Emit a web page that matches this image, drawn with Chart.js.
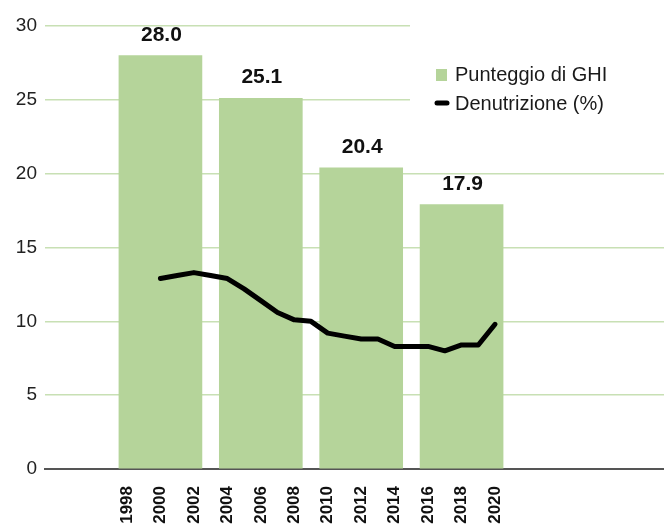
<!DOCTYPE html>
<html>
<head>
<meta charset="utf-8">
<script src="https://cdn.jsdelivr.net/npm/chart.js@4.4.1/dist/chart.umd.min.js"></script>
<style>
html,body{margin:0;padding:0;background:#fff;}
#wrap{width:664px;height:524px;position:relative;}
</style>
</head>
<body>
<div id="wrap"><canvas id="c" width="664" height="524"></canvas></div>
<script>
// ---- data ----
const tickYears = [1998, 2000, 2002, 2004, 2006, 2008, 2010, 2012, 2014, 2016, 2018, 2020];
const ghiYears = [2000, 2006, 2012, 2018];
const ghiScores = [28.0, 25.1, 20.4, 17.9];
const underYears = [2000, 2001, 2002, 2003, 2004, 2005, 2006, 2007, 2008, 2009, 2010,
                    2011, 2012, 2013, 2014, 2015, 2016, 2017, 2018, 2019, 2020];
const underValues = [12.9, 13.1, 13.3, 13.1, 12.9, 12.2, 11.4, 10.6, 10.1, 10.0, 9.2,
                     9.0, 8.8, 8.8, 8.3, 8.3, 8.3, 8.0, 8.4, 8.4, 9.8];
const seriesNames = ['Punteggio di GHI', 'Denutrizione (%)'];
const yTicks = [0, 5, 10, 15, 20, 25, 30];

const BAR_COLOR = '#b5d49a';
const GRID_COLOR = '#c8e0b4';

const valueLabels = {
  id: 'valueLabels',
  afterDatasetsDraw(chart) {
    const ctx = chart.ctx;
    const meta = chart.getDatasetMeta(0);
    ctx.save();
    ctx.font = 'bold 21px "Liberation Sans", Arial, sans-serif';
    ctx.fillStyle = '#111';
    ctx.textAlign = 'center';
    ctx.textBaseline = 'alphabetic';
    meta.data.forEach((bar, i) => {
      ctx.fillText(ghiScores[i].toFixed(1), bar.x + 1, bar.y - 15);
    });
    ctx.restore();
  }
};

const customLegend = {
  id: 'customLegend',
  beforeDatasetsDraw(chart) {
    const ctx = chart.ctx;
    ctx.save();
    ctx.fillStyle = '#fff';
    ctx.fillRect(410, 10, 260, 122);
    ctx.restore();
  },
  afterDraw(chart) {
    const ctx = chart.ctx;
    ctx.save();
    ctx.fillStyle = BAR_COLOR;
    ctx.fillRect(436, 69, 11, 12);
    ctx.strokeStyle = '#000';
    ctx.lineWidth = 5;
    ctx.lineCap = 'round';
    ctx.beginPath();
    ctx.moveTo(437, 103);
    ctx.lineTo(447, 103);
    ctx.stroke();
    ctx.fillStyle = '#1a1a1a';
    ctx.font = '20px "Liberation Sans", Arial, sans-serif';
    ctx.textAlign = 'left';
    ctx.textBaseline = 'middle';
    ctx.fillText(seriesNames[0], 455, 75);
    ctx.fillText(seriesNames[1], 455, 104);
    ctx.restore();
  }
};

new Chart(document.getElementById('c'), {
  type: 'bar',
  data: {
    datasets: [
      {
        type: 'bar',
        label: seriesNames[0],
        data: ghiYears.map((y, i) => ({x: y, y: ghiScores[i]})),
        backgroundColor: BAR_COLOR,
        borderWidth: 0,
        barThickness: 83,
        order: 2
      },
      {
        type: 'line',
        label: seriesNames[1],
        data: underYears.map((y, i) => ({x: y, y: underValues[i]})),
        borderColor: '#000',
        borderWidth: 5,
        borderCapStyle: 'round',
        borderJoinStyle: 'round',
        pointRadius: 0,
        tension: 0,
        fill: false,
        order: 1
      }
    ]
  },
  options: {
    responsive: false,
    animation: false,
    layout: {padding: {top: 26, right: 0, left: 0, bottom: 0}},
    plugins: {legend: {display: false}, tooltip: {enabled: false}},
    scales: {
      x: {
        type: 'linear',
        offset: false,
        min: 1993.1,
        max: 2030.1,
        afterBuildTicks(scale) { scale.ticks = tickYears.map(v => ({value: v})); },
        afterFit(scale) { scale.height = 55; },
        grid: {display: false, drawTicks: false, offset: false},
        border: {display: true, color: '#555', width: 2},
        ticks: {
          autoSkip: false,
          minRotation: 90,
          maxRotation: 90,
          padding: 17,
          color: '#111',
          font: {family: '"Liberation Sans", Arial, sans-serif', size: 17, weight: 'bold'},
          callback: v => String(v)
        }
      },
      y: {
        min: 0,
        max: 30,
        afterBuildTicks(scale) { scale.ticks = yTicks.map(v => ({value: v})); },
        afterFit(scale) { scale.width = 45; },
        grid: {color: GRID_COLOR, lineWidth: 1.5, drawTicks: false},
        border: {display: false},
        ticks: {
          padding: 8,
          color: '#222',
          font: {family: '"Liberation Sans", Arial, sans-serif', size: 19}
        }
      }
    }
  },
  plugins: [valueLabels, customLegend]
});
</script>
</body>
</html>
